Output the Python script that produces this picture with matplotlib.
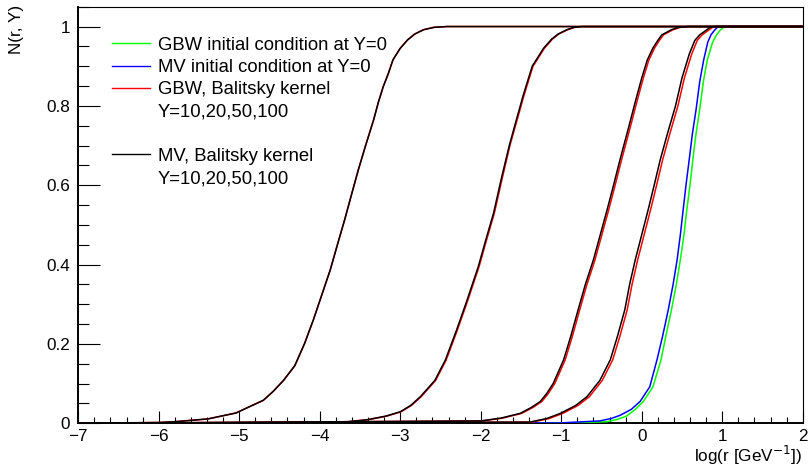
import matplotlib
matplotlib.use("Agg")
import matplotlib.pyplot as plt
from matplotlib.lines import Line2D
from matplotlib.ticker import MultipleLocator

plt.rcParams['font.family'] = ['Liberation Sans', 'DejaVu Sans']

# ---- data (x = log r, N = N(r,Y)) ----
gbw0_x = [-7.0, -0.90, -0.43, -0.30, -0.19, -0.08, 0.02, 0.14, 0.24, 0.30, 0.37, 0.43, 0.48, 0.525, 0.56, 0.60, 0.635, 0.675, 0.72, 0.765, 0.815, 0.88, 0.93, 0.98, 1.02, 1.06, 2.0]
gbw0_n = [0.0, 0.001, 0.004, 0.010, 0.018, 0.035, 0.055, 0.092, 0.16, 0.22, 0.286, 0.35, 0.412, 0.475, 0.538, 0.60, 0.664, 0.73, 0.79, 0.86, 0.916, 0.96, 0.979, 0.992, 0.998, 1.0, 1.0]

mv0_x = [-7.0, -1.01, -0.52, -0.38, -0.27, -0.13, -0.02, 0.10, 0.19, 0.26, 0.33, 0.39, 0.44, 0.48, 0.515, 0.55, 0.59, 0.63, 0.675, 0.72, 0.77, 0.82, 0.86, 0.91, 0.94, 0.97, 2.0]
mv0_n = [0.0, 0.001, 0.006, 0.012, 0.02, 0.035, 0.055, 0.092, 0.16, 0.22, 0.286, 0.35, 0.412, 0.475, 0.538, 0.60, 0.664, 0.73, 0.79, 0.86, 0.916, 0.96, 0.979, 0.992, 0.998, 1.0, 1.0]

# MV initial condition, Balitsky kernel, Y = 10, 20, 50, 100
mv10_x = [-7.0, -1.39, -1.18, -1.01, -0.82, -0.68, -0.52, -0.39, -0.30, -0.21, -0.15, -0.08, 0.0, 0.08, 0.155, 0.23, 0.32, 0.42, 0.50, 0.59, 0.66, 0.72, 0.81, 0.85, 0.89, 2.0]
mv10_n = [0.0, 0.003, 0.012, 0.025, 0.045, 0.067, 0.108, 0.16, 0.22, 0.286, 0.35, 0.412, 0.475, 0.538, 0.60, 0.664, 0.73, 0.80, 0.87, 0.93, 0.965, 0.979, 0.992, 0.998, 1.0, 1.0]

mv20_x = [-7.0, -2.0, -1.75, -1.51, -1.37, -1.26, -1.18, -1.10, -0.97, -0.88, -0.79, -0.70, -0.60, -0.515, -0.43, -0.35, -0.27, -0.17, -0.08, 0.0, 0.07, 0.14, 0.20, 0.25, 0.37, 0.46, 0.56, 2.0]
mv20_n = [0.0, 0.006, 0.013, 0.025, 0.04, 0.055, 0.075, 0.10, 0.16, 0.22, 0.286, 0.35, 0.412, 0.475, 0.538, 0.60, 0.664, 0.74, 0.81, 0.87, 0.916, 0.946, 0.965, 0.979, 0.992, 0.998, 1.0, 1.0]

mv50_x = [-7.0, -3.7, -3.41, -3.18, -3.0, -2.87, -2.75, -2.57, -2.44, -2.30, -2.17, -2.03, -1.94, -1.84, -1.74, -1.645, -1.55, -1.47, -1.36, -1.22, -1.12, -1.04, -0.93, -0.84, -0.75, 2.0]
mv50_n = [0.0, 0.003, 0.009, 0.018, 0.029, 0.045, 0.067, 0.108, 0.159, 0.235, 0.31, 0.395, 0.46, 0.53, 0.62, 0.70, 0.77, 0.828, 0.90, 0.945, 0.968, 0.981, 0.992, 0.998, 1.0, 1.0]

mv100_x = [-7.0, -6.0, -5.8, -5.39, -5.04, -4.70, -4.58, -4.45, -4.31, -4.19, -4.08, -3.98, -3.87, -3.78, -3.69, -3.60, -3.52, -3.43, -3.33, -3.27, -3.21, -3.15, -3.09, -3.00, -2.91, -2.82, -2.71, -2.58, -2.42, 2.0]
mv100_n = [0.0, 0.002, 0.004, 0.011, 0.026, 0.058, 0.08, 0.108, 0.145, 0.20, 0.260, 0.32, 0.386, 0.45, 0.513, 0.58, 0.639, 0.70, 0.765, 0.81, 0.849, 0.88, 0.916, 0.945, 0.966, 0.981, 0.992, 0.998, 1.0, 1.0]

# GBW initial condition, Balitsky kernel, Y = 10, 20, 50, 100
gbw10_x = [-7.0, -1.36, -1.15, -0.98, -0.79, -0.65, -0.49, -0.36, -0.27, -0.18, -0.12, -0.05, 0.03, 0.11, 0.185, 0.26, 0.35, 0.45, 0.53, 0.62, 0.69, 0.75, 0.84, 0.88, 0.92, 2.0]
gbw10_n = [0.0, 0.003, 0.012, 0.025, 0.045, 0.067, 0.108, 0.16, 0.22, 0.286, 0.35, 0.412, 0.475, 0.538, 0.60, 0.664, 0.73, 0.80, 0.87, 0.93, 0.965, 0.979, 0.992, 0.998, 1.0, 1.0]

gbw20_x = [-7.0, -1.98, -1.73, -1.49, -1.35, -1.24, -1.16, -1.08, -0.95, -0.86, -0.77, -0.68, -0.58, -0.495, -0.41, -0.33, -0.25, -0.15, -0.06, 0.02, 0.09, 0.16, 0.22, 0.27, 0.39, 0.48, 0.58, 2.0]
gbw20_n = [0.0, 0.006, 0.013, 0.025, 0.04, 0.055, 0.075, 0.10, 0.16, 0.22, 0.286, 0.35, 0.412, 0.475, 0.538, 0.60, 0.664, 0.74, 0.81, 0.87, 0.916, 0.946, 0.965, 0.979, 0.992, 0.998, 1.0, 1.0]

gbw50_x = [-7.0, -3.69, -3.40, -3.17, -2.99, -2.86, -2.74, -2.56, -2.43, -2.29, -2.16, -2.02, -1.93, -1.83, -1.73, -1.637, -1.54, -1.46, -1.35, -1.21, -1.11, -1.03, -0.92, -0.83, -0.74, 2.0]
gbw50_n = [0.0, 0.003, 0.009, 0.018, 0.029, 0.045, 0.067, 0.108, 0.159, 0.235, 0.31, 0.395, 0.46, 0.53, 0.62, 0.70, 0.77, 0.828, 0.90, 0.945, 0.968, 0.981, 0.992, 0.998, 1.0, 1.0]

gbw100_x = [-7.0, -6.0, -5.8, -5.39, -5.04, -4.70, -4.58, -4.45, -4.31, -4.19, -4.08, -3.98, -3.87, -3.78, -3.69, -3.60, -3.52, -3.43, -3.33, -3.27, -3.21, -3.15, -3.09, -3.00, -2.91, -2.82, -2.71, -2.58, -2.42, 2.0]
gbw100_n = [0.0, 0.002, 0.004, 0.011, 0.026, 0.058, 0.08, 0.108, 0.145, 0.20, 0.260, 0.32, 0.386, 0.45, 0.513, 0.58, 0.639, 0.70, 0.765, 0.81, 0.849, 0.88, 0.916, 0.945, 0.966, 0.981, 0.992, 0.998, 1.0, 1.0]

legend_labels = ["GBW initial condition at Y=0", "MV initial condition at Y=0",
                 "GBW, Balitsky kernel", "Y=10,20,50,100", "",
                 "MV, Balitsky kernel", "Y=10,20,50,100"]

W, H = 808, 470
fig = plt.figure(figsize=(W / 100, H / 100), dpi=100)
x0, x1, yb, yt = 78.2, 802.7, 423.3, 6.7
ax = fig.add_axes([x0 / W, 1 - yb / H, (x1 - x0) / W, (yb - yt) / H])

lw = 1.1
ax.plot(gbw0_x, gbw0_n, color=(0, 1, 0), lw=lw, zorder=3)
ax.plot(mv0_x, mv0_n, color=(0, 0, 1), lw=lw, zorder=3)
for xs, ns in [(gbw10_x, gbw10_n), (gbw20_x, gbw20_n), (gbw50_x, gbw50_n), (gbw100_x, gbw100_n)]:
    ax.plot(xs, ns, color=(1, 0, 0), lw=lw, zorder=3)
for xs, ns in [(mv10_x, mv10_n), (mv20_x, mv20_n), (mv50_x, mv50_n), (mv100_x, mv100_n)]:
    ax.plot(xs, ns, color='black', lw=lw, zorder=3)

ax.set_xlim(-7, 2)
ax.set_ylim(0, 1.05)
ax.xaxis.set_major_locator(MultipleLocator(1))
ax.xaxis.set_minor_locator(MultipleLocator(0.2))
ax.yaxis.set_minor_locator(MultipleLocator(0.05))
ax.set_yticks([0, 0.2, 0.4, 0.6, 0.8, 1.0])
ax.set_yticklabels(["0", "0.2", "0.4", "0.6", "0.8", "1"])

ax.tick_params(axis='both', which='both', direction='in', top=False, right=False,
               labelsize=12.3, width=0.8, color='black')
ax.tick_params(axis='x', which='major', length=8.6, pad=4)
ax.tick_params(axis='x', which='minor', length=4.3)
ax.tick_params(axis='y', which='major', length=15.8, pad=6)
ax.tick_params(axis='y', which='minor', length=7.9)
for s in ['left', 'bottom']:
    ax.spines[s].set_linewidth(1.4)
for s in ['top', 'right']:
    ax.spines[s].set_linewidth(0.8)

fig.text(802 / W, 1 - 462 / H, r"log(r [GeV$^{-1}$])", ha='right', va='baseline', fontsize=12.3)
fig.text(17 / W, 1 - 5 / H, "N(r, Y)", rotation=90, ha='center', va='top', fontsize=12.3)

# legend drawn manually
row0, dy = 43.3, 22.2
colors = [(0, 1, 0), (0, 0, 1), (1, 0, 0), None, None, 'black', None]
for i, (lab, c) in enumerate(zip(legend_labels, colors)):
    py = row0 + dy * i
    fy = 1 - py / H
    if c is not None:
        fig.add_artist(Line2D([112 / W, 150 / W], [fy, fy], color=c, lw=1.0))
    if lab:
        fig.text(158 / W, fy, lab, ha='left', va='center_baseline', fontsize=13.3)

fig.savefig("out.png", dpi=100)
